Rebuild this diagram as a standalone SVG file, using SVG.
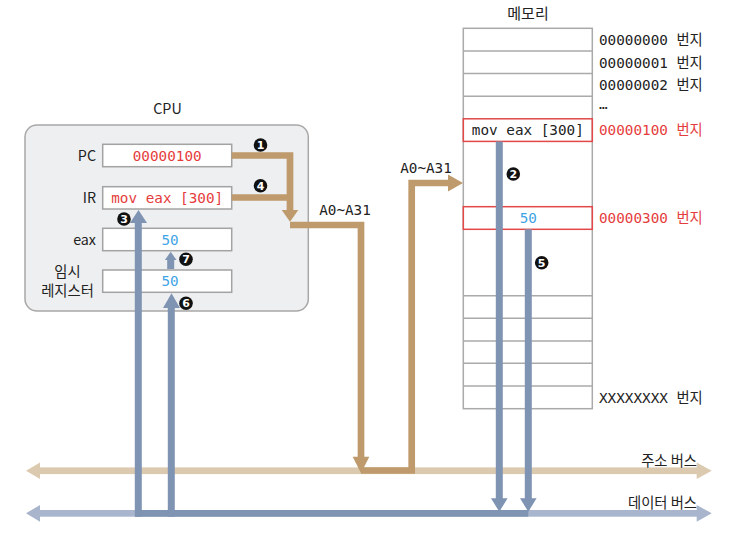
<svg xmlns="http://www.w3.org/2000/svg" width="734" height="536" viewBox="0 0 734 536">
<style>
.sans{font-family:"Noto Sans CJK KR","Noto Sans",sans-serif;fill:#222}
.mono{font-family:"DejaVu Sans Mono","Liberation Mono",monospace;font-size:14.3px}
.lbl{font-size:14.3px}
.red{fill:#e53c3c}
.blue{fill:#3fa4e6}
.blk{fill:#222}
.reg{fill:#fff;stroke:#a3a3a3;stroke-width:1.5}
.cell{fill:none;stroke:#aaaaaa;stroke-width:1.5}
.redbox{fill:none;stroke:#e24848;stroke-width:1.5}
.brown{fill:none;stroke:#bf9a6c;stroke-width:6.7;stroke-linejoin:miter}
.brownf{fill:#bf9a6c}
.blueln{fill:none;stroke:#7f93b2;stroke-width:7;stroke-linejoin:miter}
.bluef{fill:#7f93b2}
.num circle{fill:#111}
.num text{font-family:"DejaVu Sans","Liberation Sans",sans-serif;font-size:11px;font-weight:bold;fill:#fff;text-anchor:middle}
</style>

<g id="address-bus">
  <rect x="39" y="467.4" width="659" height="6.7" fill="#dccab0"/>
  <polygon points="26,470.7 40,462.5 40,479" fill="#dccab0"/>
  <polygon points="711.7,470.7 696.7,462.5 696.7,479" fill="#dccab0"/>
  <text class="sans lbl" x="697" y="466" text-anchor="end" fill="#333">주소 버스</text>
</g>
<g id="data-bus">
  <rect x="39" y="510" width="659" height="6.7" fill="#a9b5cc"/>
  <polygon points="26,513.3 40,505 40,521.7" fill="#a9b5cc"/>
  <polygon points="711.7,513.3 696.7,505 696.7,521.7" fill="#a9b5cc"/>
  <text class="sans lbl" x="697" y="508" text-anchor="end" fill="#333">데이터 버스</text>
</g>

<g id="cpu">
  <rect x="25" y="125" width="283.3" height="186" rx="12" fill="#eeeff0" stroke="#a8a8a8" stroke-width="1.5"/>
  <text class="sans lbl" x="167.5" y="114" text-anchor="middle">CPU</text>
</g>
<g id="pc">
  <text class="sans lbl" x="96" y="161" text-anchor="end">PC</text>
  <rect class="reg" x="102.7" y="144.3" width="129" height="22.4"/>
  <text class="mono red" x="167.2" y="160.5" text-anchor="middle">00000100</text>
</g>
<g id="ir">
  <text class="sans lbl" x="96" y="203" text-anchor="end">IR</text>
  <rect class="reg" x="102.7" y="186.7" width="129" height="22.3"/>
  <text class="mono red" x="167.2" y="203" text-anchor="middle">mov eax [300]</text>
</g>
<g id="eax">
  <text class="sans lbl" x="96" y="245" text-anchor="end">eax</text>
  <rect class="reg" x="102.7" y="228.3" width="129" height="22.4"/>
  <text class="mono blue" x="170" y="244.5" text-anchor="middle">50</text>
</g>
<g id="temp-register">
  <text class="sans lbl" x="67.5" y="276.5" text-anchor="middle">임시</text>
  <text class="sans lbl" x="67.5" y="296" text-anchor="middle">레지스터</text>
  <rect class="reg" x="102.7" y="270" width="129" height="22.3"/>
  <text class="mono blue" x="170" y="286" text-anchor="middle">50</text>
</g>

<g id="memory">
  <text class="sans" x="528" y="18.5" text-anchor="middle" font-size="15">메모리</text>
  <rect class="cell" x="463.3" y="28.3" width="129" height="380.4"/>
  <path class="cell" d="M463.3 51H592.3M463.3 73.6H592.3M463.3 96.2H592.3M463.3 295.7H592.3M463.3 318.3H592.3M463.3 341H592.3M463.3 363.3H592.3M463.3 386H592.3"/>
  <rect class="redbox" x="463.3" y="118.8" width="129" height="22.6"/>
  <rect class="redbox" x="463.3" y="206.7" width="129" height="22.6"/>
  <text class="mono blk" x="527.8" y="135" text-anchor="middle">mov eax [300]</text>
  <text class="mono blue" x="528.3" y="223" text-anchor="middle">50</text>
  <text x="599" y="45" class="blk"><tspan class="mono">00000000 </tspan><tspan class="sans lbl">번지</tspan></text>
  <text x="599" y="67.5" class="blk"><tspan class="mono">00000001 </tspan><tspan class="sans lbl">번지</tspan></text>
  <text x="599" y="90" class="blk"><tspan class="mono">00000002 </tspan><tspan class="sans lbl">번지</tspan></text>
  <text x="599" y="109" class="mono blk" font-size="12">…</text>
  <text x="599" y="135" class="red"><tspan class="mono">00000100 </tspan><tspan class="sans lbl red">번지</tspan></text>
  <text x="599" y="223" class="red"><tspan class="mono">00000300 </tspan><tspan class="sans lbl red">번지</tspan></text>
  <text x="599" y="402.5" class="blk"><tspan class="mono">XXXXXXXX </tspan><tspan class="sans lbl">번지</tspan></text>
</g>

<g id="connectors">
  <path class="brown" d="M231.7 155.5H290V211"/>
  <path class="brown" d="M231.7 197.5H290"/>
  <polygon class="brownf" points="281.7,210 298.3,210 290,221.7"/>
  <path class="brown" d="M290 225H361V457.5"/>
  <polygon class="brownf" points="352.7,456.7 369.3,456.7 361,473.3"/>
  <path class="brown" d="M361 470.5H411.7V183H449"/>
  <polygon class="brownf" points="448,174.5 448,191.5 463,183"/>
  <rect class="bluef" x="135" y="510" width="393.3" height="6.7"/>
  <path class="blueln" d="M138.3 516.7V222"/>
  <polygon class="bluef" points="130,223 147,223 138.5,210"/>
  <path class="blueln" d="M171.3 516.7V307"/>
  <polygon class="bluef" points="163,308 180,308 171.5,293.3"/>
  <path class="blueln" d="M170.7 269V259" stroke-width="4.3"/>
  <polygon class="bluef" points="164.9,260 176.5,260 170.7,251.7"/>
  <path class="blueln" d="M499.3 141.4V499"/>
  <polygon class="bluef" points="491,498.3 507.6,498.3 499.3,511.7"/>
  <path class="blueln" d="M528.3 229.3V499"/>
  <polygon class="bluef" points="520,498.3 536.6,498.3 528.3,511.7"/>
  <text class="mono blk" x="345" y="215" text-anchor="middle">A0~A31</text>
  <text class="mono blk" x="426" y="172.5" text-anchor="middle">A0~A31</text>
  <g class="num">
    <circle cx="260.5" cy="145" r="6.8"/><text x="260.5" y="149">1</text>
    <circle cx="513.3" cy="174" r="6.8"/><text x="513.3" y="178">2</text>
    <circle cx="124" cy="219" r="6.8"/><text x="124" y="223">3</text>
    <circle cx="260.5" cy="185.7" r="6.8"/><text x="260.5" y="189.7">4</text>
    <circle cx="541.7" cy="262.7" r="6.8"/><text x="541.7" y="266.7">5</text>
    <circle cx="186" cy="303.3" r="6.8"/><text x="186" y="307.3">6</text>
    <circle cx="186" cy="259.3" r="6.8"/><text x="186" y="263.3">7</text>
  </g>
</g>
</svg>
